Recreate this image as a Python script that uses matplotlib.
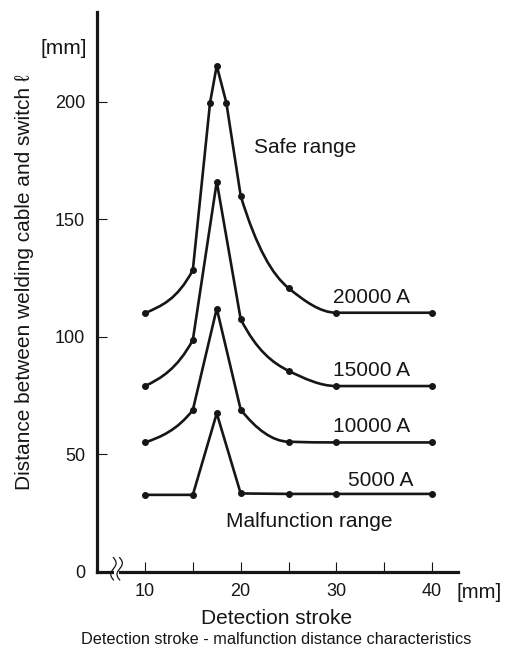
import matplotlib
matplotlib.use("Agg")
import matplotlib.pyplot as plt
import numpy as np
from matplotlib.path import Path
from matplotlib.patches import PathPatch, Rectangle

plt.rcParams['font.family'] = ['Liberation Sans', 'DejaVu Sans']

# data
stroke = [10, 15, 17.5, 20, 25, 30, 40]
stroke_20000 = [10, 15, 16.8, 17.5, 18.5, 20, 25, 30, 40]
dist_20000 = [110, 128.4, 199.6, 215.3, 199.6, 160, 120.7, 110.2, 110.2]
dist_15000 = [79, 98.6, 166, 107.5, 85.5, 79, 79]
dist_10000 = [55, 68.8, 112, 69, 55.3, 55, 55]
dist_5000 = [32.7, 32.7, 67.4, 33.3, 33.1, 33.1, 33.1]

current_labels = ["20000 A", "15000 A", "10000 A", "5000 A"]
label_pos = [(29.6, 116.8), (29.6, 85.5), (29.6, 61.7), (31.2, 39.0)]

x_ticks = [10, 15, 20, 25, 30, 35, 40]
x_ticklabels = ["10", "", "20", "", "30", "", "40"]
y_ticks = [0, 50, 100, 150, 200]

INK = "#161616"


def slopes(x, y):
    # monotone (pchip style) tangents at each point
    x = np.asarray(x, float)
    y = np.asarray(y, float)
    h = np.diff(x)
    d = np.diff(y) / h
    m = np.zeros(len(x))
    for i in range(1, len(x) - 1):
        if d[i - 1] * d[i] <= 0:
            m[i] = 0
        else:
            w1 = 2 * h[i] + h[i - 1]
            w2 = h[i] + 2 * h[i - 1]
            m[i] = (w1 + w2) / (w1 / d[i - 1] + w2 / d[i])
    m[0] = d[0] / 2
    m[-1] = d[-1] / 2
    return m, d


def curve_path(x, y, smooth=True, steep=10):
    m, d = slopes(x, y)
    verts = [(x[0], y[0])]
    codes = [Path.MOVETO]
    for i in range(len(x) - 1):
        h = x[i + 1] - x[i]
        if not smooth or abs(d[i]) > steep:
            verts.append((x[i + 1], y[i + 1]))
            codes.append(Path.LINETO)
        else:
            verts += [(x[i] + h / 3, y[i] + m[i] * h / 3),
                      (x[i + 1] - h / 3, y[i + 1] - m[i + 1] * h / 3),
                      (x[i + 1], y[i + 1])]
            codes += [Path.CURVE4] * 3
    return Path(verts, codes)


fig = plt.figure(figsize=(5.12, 6.49), dpi=100)
ax = fig.add_axes([96.7 / 512, 77.3 / 649, 361.6 / 512, 560 / 649])

series = [(stroke_20000, dist_20000, True),
          (stroke, dist_15000, True),
          (stroke, dist_10000, True),
          (stroke, dist_5000, False)]

for xs, ys, smooth in series:
    p = curve_path(xs, ys, smooth)
    ax.add_patch(PathPatch(p, fill=False, edgecolor=INK, lw=1.9,
                           capstyle='round', joinstyle='round'))
    ax.plot(xs, ys, 'o', color=INK, ms=4)

for lab, (lx, ly) in zip(current_labels, label_pos):
    ax.text(lx, ly, lab, fontsize=15, color=INK, ha='left', va='center')

ax.text(21.4, 180.4, "Safe range", fontsize=15, color=INK, ha='left', va='center')
ax.text(18.5, 21.3, "Malfunction range", fontsize=15, color=INK, ha='left', va='center')

ax.set_xlim(4.95, 42.75)
ax.set_ylim(0, 238.3)

for s in ['top', 'right']:
    ax.spines[s].set_visible(False)
for s in ['left', 'bottom']:
    ax.spines[s].set_linewidth(2.3)
    ax.spines[s].set_color(INK)
    ax.spines[s].set_capstyle('projecting')

ax.set_xticks(x_ticks)
ax.set_xticklabels(x_ticklabels)
ax.set_yticks(y_ticks)
ax.tick_params(direction='in', length=7.2, width=0.8, color=INK,
               labelsize=13, labelcolor=INK)
ax.tick_params(axis='x', pad=8)
ax.tick_params(axis='y', pad=8.4)

# axis break on the x axis
ax.add_patch(Rectangle((6.75, -3), 0.55, 6, facecolor='white', edgecolor='none',
                       zorder=3, clip_on=False))
t = np.linspace(0, 1, 40)
for xc in [6.7, 7.35]:
    ax.plot(xc + 0.28 * np.sin(2 * np.pi * t), 6 - 9.5 * t, color=INK, lw=0.9,
            zorder=4, clip_on=False)

fig.text(63.5 / 512, 1 - 48 / 649, "[mm]", fontsize=15, color=INK, ha='center', va='center')
fig.text(479 / 512, 1 - 593 / 649, "[mm]", fontsize=14.6, color=INK, ha='center', va='center')
fig.text(277 / 512, 1 - 618 / 649, "Detection stroke", fontsize=15, color=INK,
         ha='center', va='center')
fig.text(25 / 512, 1 - 282 / 649, "Distance between welding cable and switch \u2113",
         fontsize=15, color=INK, rotation=90, ha='center', va='center')
fig.text(275.7 / 512, 1 - 640 / 649, "Detection stroke - malfunction distance characteristics",
         fontsize=11.7, color=INK, ha='center', va='center')

fig.savefig("out.png", dpi=100)
